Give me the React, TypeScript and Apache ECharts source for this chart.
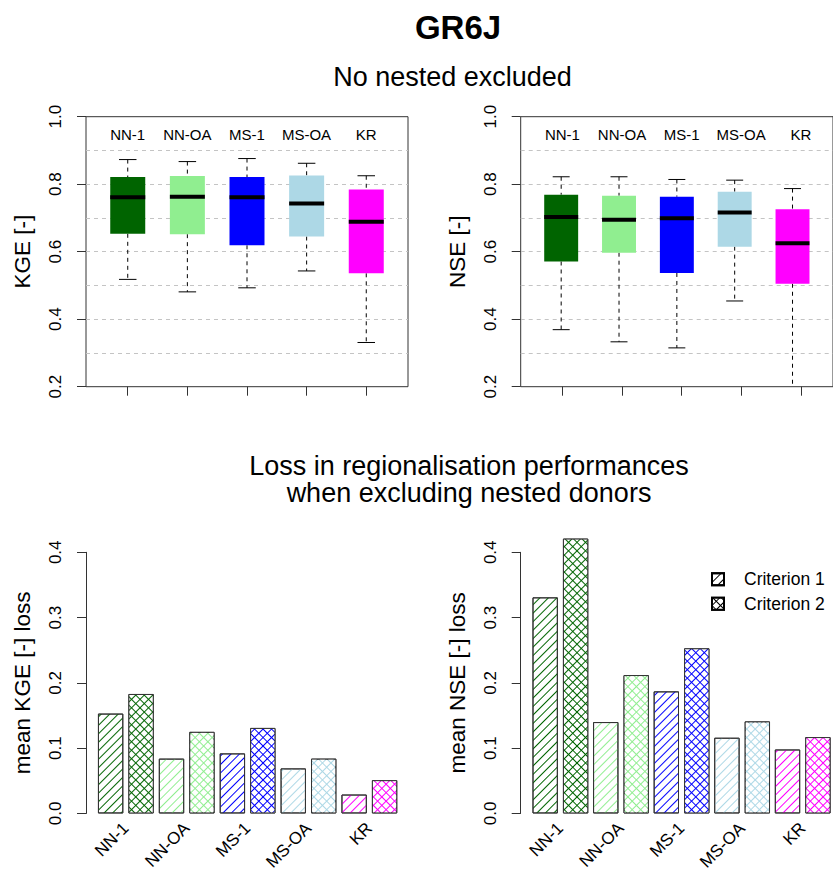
import React, { useEffect, useRef } from 'react';
import * as echarts from 'echarts';

// ---------- data ----------
const methods = ['NN-1', 'NN-OA', 'MS-1', 'MS-OA', 'KR'];
const methodColors = ['#006400', '#90EE90', '#0000FF', '#ADD8E6', '#FF00FF'];
const boxPositions = [1, 2, 3, 4, 5];
// [lower whisker, Q1, median, Q3, upper whisker]
const kgeBox = [
  [0.518, 0.653, 0.761, 0.821, 0.873],
  [0.481, 0.652, 0.763, 0.824, 0.867],
  [0.493, 0.619, 0.761, 0.821, 0.876],
  [0.543, 0.645, 0.743, 0.826, 0.862],
  [0.331, 0.536, 0.689, 0.784, 0.825],
];
const nseBox = [
  [0.369, 0.571, 0.703, 0.769, 0.822],
  [0.333, 0.597, 0.695, 0.766, 0.822],
  [0.315, 0.537, 0.699, 0.763, 0.814],
  [0.454, 0.615, 0.716, 0.778, 0.812],
  [0.15, 0.505, 0.625, 0.726, 0.787],
];
const kgeLossC1 = [0.153, 0.084, 0.092, 0.069, 0.029];
const kgeLossC2 = [0.183, 0.125, 0.131, 0.084, 0.051];
const nseLossC1 = [0.331, 0.140, 0.187, 0.116, 0.098];
const nseLossC2 = [0.421, 0.212, 0.253, 0.141, 0.117];
const criteria = ['Criterion 1', 'Criterion 2'];

// ---------- layout ----------
const FONT = 'Liberation Sans, Arial, sans-serif';
const PANEL_LEFT = [86, 520.7];
const BOX_TOP = 116.7;
const BOX_H = 270;
const BOX_W_FRAME = 322;
const HELPER_OFF = 11.9;
const HELPER_W = 298;
const BAR_TOP = 552.3;
const BAR_H = 269.7;
const BAR_OFF = 9.4;
const BAR_GRID_W = 304.4;
const BAR_W = 25.36;
const BOX_WIDTH_UNITS = 0.587;

const dashed = { stroke: '#000', lineWidth: 1, lineDash: [4, 4] };
const solid = { stroke: '#000', lineWidth: 1 };

const renderBox = (params: any, api: any) => {
  const x = api.value(0);
  const pLo = api.coord([x, api.value(1)]);
  const pQ1 = api.coord([x, api.value(2)]);
  const pMed = api.coord([x, api.value(3)]);
  const pQ3 = api.coord([x, api.value(4)]);
  const pHi = api.coord([x, api.value(5)]);
  const half = api.size([BOX_WIDTH_UNITS, 0])[0] / 2;
  const cx = pMed[0];
  const color = methodColors[params.dataIndex];
  return {
    type: 'group',
    children: [
      { type: 'line', shape: { x1: cx, y1: pHi[1], x2: cx, y2: pQ3[1] }, style: dashed },
      { type: 'line', shape: { x1: cx, y1: pQ1[1], x2: cx, y2: pLo[1] }, style: dashed },
      { type: 'line', shape: { x1: cx - half / 2, y1: pHi[1], x2: cx + half / 2, y2: pHi[1] }, style: solid },
      { type: 'line', shape: { x1: cx - half / 2, y1: pLo[1], x2: cx + half / 2, y2: pLo[1] }, style: solid },
      { type: 'rect', shape: { x: cx - half, y: pQ3[1], width: half * 2, height: pQ1[1] - pQ3[1] }, style: { fill: color } },
      { type: 'line', shape: { x1: cx - half, y1: pMed[1], x2: cx + half, y2: pMed[1] }, style: { stroke: '#000', lineWidth: 4 } },
    ],
  };
};

// single diagonal hatch: coloured lines on white bar
const hatch = (color: string) => ({
  symbol: 'rect', symbolSize: 1, dashArrayX: [1, 0], dashArrayY: [1, 4.5],
  rotation: -Math.PI / 4, color,
});
// cross hatch: bar filled with colour, white diamonds on top leave a coloured grid
const cross = () => ({
  symbol: 'rect', symbolSize: 1, dashArrayX: [5, 1], dashArrayY: [5, 1],
  rotation: Math.PI / 4, color: '#fff',
});

const yLabel = { rotate: 90, fontSize: 17, color: '#000', margin: 22, fontFamily: FONT, formatter: (v: number) => v.toFixed(1) };
const yName = { fontSize: 22.5, color: '#000', fontFamily: FONT };

function buildOption() {
  const grid: any[] = [];
  const xAxis: any[] = [];
  const yAxis: any[] = [];
  const series: any[] = [];
  const boxSets = [kgeBox, nseBox];
  const boxNames = ['KGE [-]', 'NSE [-]'];
  const lossSets = [[kgeLossC1, kgeLossC2], [nseLossC1, nseLossC2]];
  const lossNames = ['mean KGE [-] loss', 'mean NSE [-] loss'];

  for (let p = 0; p < 2; p++) {
    const L = PANEL_LEFT[p];
    // frame grid (boxplot)
    const gFrame = grid.length;
    grid.push({ left: L, top: BOX_TOP, width: BOX_W_FRAME, height: BOX_H, show: true, borderColor: '#333', borderWidth: 1, backgroundColor: 'transparent' });
    const xFrame = xAxis.length;
    xAxis.push({ type: 'value', gridIndex: gFrame, min: 0.3, max: 5.7, show: false });
    const yMain = yAxis.length;
    yAxis.push({
      type: 'value', gridIndex: gFrame, min: 0.2, max: 1.0, interval: 0.2,
      axisLine: { show: false }, axisTick: { show: true, length: 9, lineStyle: { color: '#333' } },
      axisLabel: yLabel, splitLine: { show: false },
      name: boxNames[p], nameLocation: 'middle', nameGap: 52, nameTextStyle: yName,
    });
    yAxis.push({
      type: 'value', gridIndex: gFrame, min: 0.2, max: 1.0, interval: 0.1,
      axisLine: { show: false }, axisTick: { show: false }, axisLabel: { show: false },
      splitLine: { show: true, showMinLine: false, showMaxLine: false, lineStyle: { color: '#c4c4c4', type: [4, 4], width: 1 } },
    });
    series.push({
      type: 'custom', name: boxNames[p], xAxisIndex: xFrame, yAxisIndex: yMain, clip: true,
      renderItem: renderBox, encode: { x: 0, y: [1, 2, 3, 4, 5] },
      data: boxPositions.map((pos, i) => [pos, ...boxSets[p][i]]),
    });

    // helper grid for category ticks/labels
    const gHelp = grid.length;
    grid.push({ left: L + HELPER_OFF, top: BOX_TOP, width: HELPER_W, height: BOX_H, show: false });
    xAxis.push({
      type: 'category', gridIndex: gHelp, data: methods, position: 'bottom',
      axisLine: { show: false }, axisTick: { show: true, alignWithLabel: true, length: 9, lineStyle: { color: '#333' } },
      axisLabel: { show: false },
    });
    xAxis.push({
      type: 'category', gridIndex: gHelp, data: methods, position: 'top',
      axisLine: { show: false }, axisTick: { show: false },
      axisLabel: { show: true, inside: true, interval: 0, margin: 10, fontSize: 15, color: '#000', fontFamily: FONT },
    });
    yAxis.push({ type: 'value', gridIndex: gHelp, show: false });

    // bar grid
    const gBar = grid.length;
    grid.push({ left: L + BAR_OFF, top: BAR_TOP, width: BAR_GRID_W, height: BAR_H, show: false });
    const xBar = xAxis.length;
    xAxis.push({
      type: 'category', gridIndex: gBar, data: methods,
      axisLine: { show: false }, axisTick: { show: false },
      axisLabel: { interval: 0, rotate: 45, margin: 12, fontSize: 17, color: '#000', fontFamily: FONT },
    });
    const yBar = yAxis.length;
    yAxis.push({
      type: 'value', gridIndex: gBar, min: 0, max: 0.4, interval: 0.1, offset: BAR_OFF,
      axisLine: { show: true, lineStyle: { color: '#333' } },
      axisTick: { show: true, length: 9, lineStyle: { color: '#333' } },
      axisLabel: yLabel, splitLine: { show: false },
      name: lossNames[p], nameLocation: 'middle', nameGap: 52, nameTextStyle: yName,
    });
    for (let c = 0; c < 2; c++) {
      series.push({
        type: 'bar', name: criteria[c], xAxisIndex: xBar, yAxisIndex: yBar,
        barWidth: BAR_W, barGap: '20%', clip: false,
        itemStyle: c === 0
          ? { color: '#fff', borderColor: '#000', borderWidth: 1, decal: hatch('#000') }
          : { color: '#000', borderColor: '#000', borderWidth: 1, decal: cross() },
        emphasis: { disabled: true },
        data: lossSets[p][c].map((v, i) => ({
          value: v,
          itemStyle: c === 0
            ? { color: '#fff', borderColor: '#333', borderWidth: 1, decal: hatch(methodColors[i]) }
            : { color: methodColors[i], borderColor: '#333', borderWidth: 1, decal: cross() },
        })),
      });
    }
  }

  return {
    animation: false,
    backgroundColor: '#fff',
    textStyle: { fontFamily: FONT },
    grid, xAxis, yAxis, series,
    legend: {
      data: criteria, orient: 'vertical', left: 706, top: 562,
      icon: 'rect', itemWidth: 12, itemHeight: 12, itemGap: 0,
      selectedMode: false,
      textStyle: { fontSize: 17.5, color: '#000', fontFamily: FONT, padding: [0, 0, 0, 15], lineHeight: 24.5 },
    },
    graphic: [
      { type: 'text', x: 458, y: 27.5, style: { text: 'GR6J', font: `bold 33px ${FONT}`, fill: '#000', align: 'center', verticalAlign: 'middle' } },
      { type: 'text', x: 452.5, y: 77, style: { text: 'No nested excluded', font: `27px ${FONT}`, fill: '#000', align: 'center', verticalAlign: 'middle' } },
      {
        type: 'text', x: 469, y: 479.5,
        style: {
          text: 'Loss in regionalisation performances\nwhen excluding nested donors',
          font: `27px ${FONT}`, lineHeight: 27, fill: '#000', align: 'center', verticalAlign: 'middle',
        },
      },
    ],
  };
}

export default function App() {
  const ref = useRef<HTMLDivElement>(null);
  useEffect(() => {
    if (!ref.current) return;
    const chart = echarts.init(ref.current, undefined, { renderer: 'svg' });
    chart.setOption(buildOption() as any);
    return () => chart.dispose();
  }, []);
  return (
    <div
      ref={ref}
      style={{ position: 'absolute', left: 0, top: 0, width: 833, height: 873, background: '#fff' }}
    />
  );
}
